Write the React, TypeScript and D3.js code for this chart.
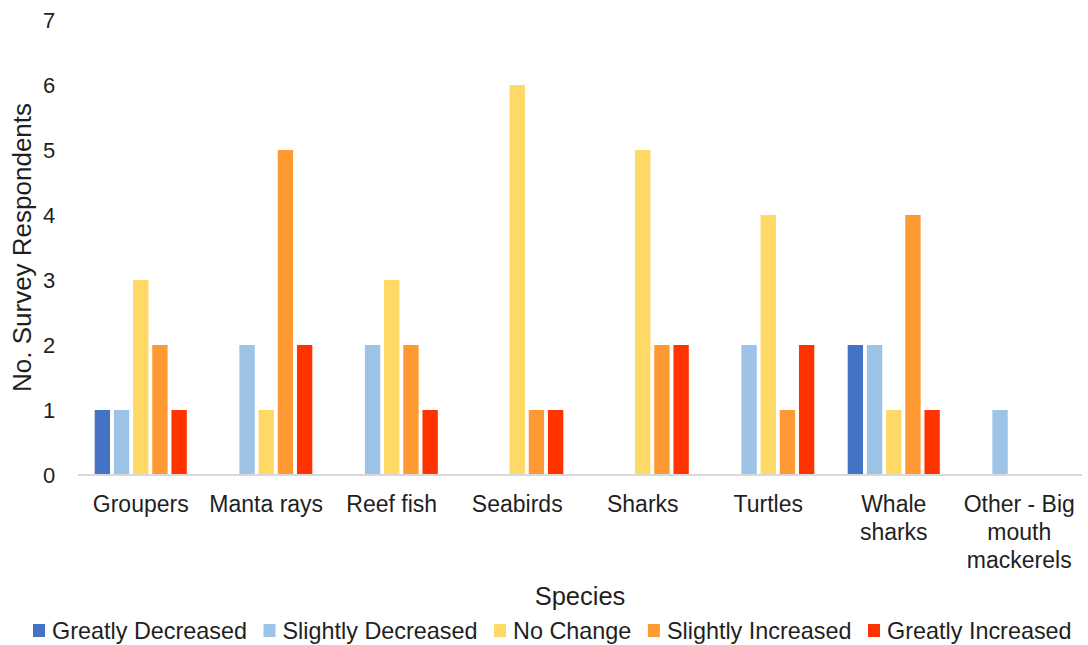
import { useEffect, useRef } from "react";
import * as d3 from "d3";

const W = 1088;
const H = 645;
const MARGIN = { top: 20, right: 6, bottom: 170, left: 78 };

const SPECIES = [
  "Groupers",
  "Manta rays",
  "Reef fish",
  "Seabirds",
  "Sharks",
  "Turtles",
  "Whale sharks",
  "Other - Big mouth mackerels",
];
const RESPONSES = [
  "Greatly Decreased",
  "Slightly Decreased",
  "No Change",
  "Slightly Increased",
  "Greatly Increased",
];
const COLORS = ["#4472c4", "#9dc3e6", "#ffd966", "#ff9933", "#ff3300"];

// one array per response category, in SPECIES order
const greatlyDecreased = [1, 0, 0, 0, 0, 0, 2, 0];
const slightlyDecreased = [1, 2, 2, 0, 0, 2, 2, 1];
const noChange = [3, 1, 3, 6, 5, 4, 1, 0];
const slightlyIncreased = [2, 5, 2, 1, 2, 1, 4, 0];
const greatlyIncreased = [1, 2, 1, 1, 2, 2, 1, 0];
const SERIES = [greatlyDecreased, slightlyDecreased, noChange, slightlyIncreased, greatlyIncreased];

const Y_TICKS = [0, 1, 2, 3, 4, 5, 6, 7];
const FONT = "'Liberation Sans', Arial, sans-serif";
const TEXT = "#1f1f1f";

export default function App() {
  const svgRef = useRef<SVGSVGElement | null>(null);

  useEffect(() => {
    const svg = d3.select(svgRef.current);
    svg.selectAll("*").remove();

    const x0 = d3
      .scaleBand<string>()
      .domain(SPECIES)
      .range([MARGIN.left, W - MARGIN.right]);
    const groupPad = x0.bandwidth() * 0.133;
    const x1 = d3
      .scaleBand<number>()
      .domain(d3.range(RESPONSES.length))
      .range([groupPad, x0.bandwidth() - groupPad])
      .paddingInner(0.2);
    const y = d3
      .scaleLinear()
      .domain([0, 7])
      .range([H - MARGIN.bottom, MARGIN.top]);

    // bars
    const groups = svg
      .append("g")
      .selectAll("g")
      .data(SPECIES)
      .join("g")
      .attr("transform", (d) => `translate(${x0(d)},0)`);
    groups
      .selectAll("rect")
      .data((_, i) => SERIES.map((s, k) => ({ k, v: s[i] })).filter((d) => d.v > 0))
      .join("rect")
      .attr("x", (d) => x1(d.k)!)
      .attr("width", x1.bandwidth())
      .attr("y", (d) => y(d.v))
      .attr("height", (d) => y(0) - y(d.v))
      .attr("fill", (d) => COLORS[d.k]);

    // x axis line
    svg
      .append("line")
      .attr("x1", MARGIN.left)
      .attr("x2", W - MARGIN.right)
      .attr("y1", y(0))
      .attr("y2", y(0))
      .attr("stroke", "#d9d9d9")
      .attr("stroke-width", 2);

    // y tick labels
    svg
      .append("g")
      .selectAll("text")
      .data(Y_TICKS)
      .join("text")
      .attr("x", 49)
      .attr("y", (d) => y(d))
      .attr("dy", "0.36em")
      .attr("text-anchor", "middle")
      .attr("font-family", FONT)
      .attr("font-size", 22)
      .attr("fill", TEXT)
      .text((d) => d);

    // category labels, wrapped to band width
    const catG = svg.append("g");
    SPECIES.forEach((name) => {
      const cx = x0(name)! + x0.bandwidth() / 2;
      const t = catG
        .append("text")
        .attr("font-family", FONT)
        .attr("font-size", 23)
        .attr("fill", TEXT)
        .attr("text-anchor", "middle");
      const words = name.split(" ");
      const lines: string[] = [];
      let cur = "";
      const probe = t.append("tspan");
      words.forEach((w) => {
        const test = cur ? `${cur} ${w}` : w;
        probe.text(test);
        if (cur && probe.node()!.getComputedTextLength() > x0.bandwidth() - 4) {
          lines.push(cur);
          cur = w;
        } else cur = test;
      });
      lines.push(cur);
      probe.remove();
      lines.forEach((l, i) => {
        t.append("tspan")
          .attr("x", cx)
          .attr("y", 512 + i * 28)
          .text(l);
      });
    });

    // axis titles
    svg
      .append("text")
      .attr("transform", `translate(31,${(y(0) + y(7)) / 2}) rotate(-90)`)
      .attr("text-anchor", "middle")
      .attr("font-family", FONT)
      .attr("font-size", 26)
      .attr("fill", TEXT)
      .text("No. Survey Respondents");
    svg
      .append("text")
      .attr("x", (MARGIN.left + W - MARGIN.right) / 2)
      .attr("y", 605)
      .attr("text-anchor", "middle")
      .attr("font-family", FONT)
      .attr("font-size", 25.5)
      .attr("fill", TEXT)
      .text("Species");

    // legend
    const leg = svg.append("g");
    let lx = 33;
    RESPONSES.forEach((r, i) => {
      leg
        .append("rect")
        .attr("x", lx)
        .attr("y", 624)
        .attr("width", 12)
        .attr("height", 13)
        .attr("fill", COLORS[i]);
      const t = leg
        .append("text")
        .attr("x", lx + 19)
        .attr("y", 639)
        .attr("font-family", FONT)
        .attr("font-size", 23.4)
        .attr("fill", TEXT)
        .text(r);
      lx += 19 + t.node()!.getComputedTextLength() + 16.5;
    });
  }, []);

  return (
    <svg
      ref={svgRef}
      width={W}
      height={H}
      style={{ position: "absolute", left: 0, top: 0, background: "#fff" }}
    />
  );
}
